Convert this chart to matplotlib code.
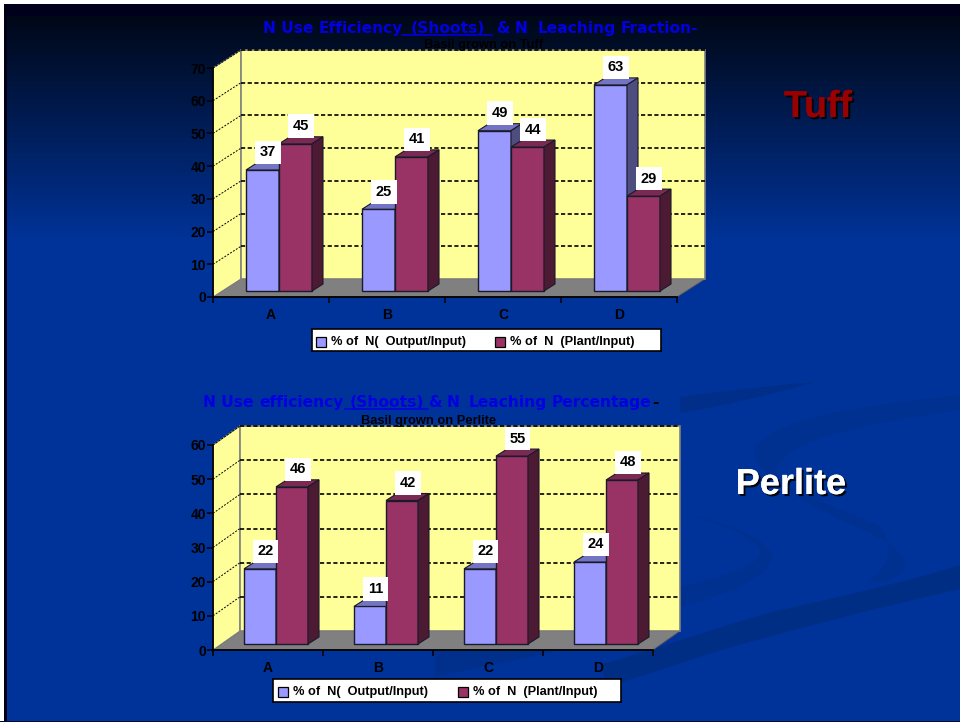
import numpy as np
import matplotlib
matplotlib.use("Agg")
import matplotlib.pyplot as plt
import matplotlib.patheffects as pe
from matplotlib.patches import PathPatch, Polygon, Rectangle
from matplotlib.path import Path

W, H = 960, 722

categories = ["A", "B", "C", "D"]
series_names = ["% of  N(  Output/Input)", "% of  N  (Plant/Input)"]

tuff_output = [37, 25, 49, 63]
tuff_plant = [45, 41, 44, 29]
perlite_output = [22, 11, 22, 24]
perlite_plant = [46, 42, 55, 48]

tuff_ticks = [0, 10, 20, 30, 40, 50, 60, 70]
perlite_ticks = [0, 10, 20, 30, 40, 50, 60]

BLUE = ("#9999ff", "#7474c4", "#4d4d80")
MAROON = ("#993366", "#7a2952", "#4d1a33")
TITLE_BLUE = "#0000e0"


def px_axes(fig, left, right, top, bottom):
    return fig.add_axes([left / W, 1 - bottom / H, (right - left) / W, (bottom - top) / H])


def curve(points):
    # first point, then curve segments of three points each
    return Path(points + [points[0]],
                [Path.MOVETO] + [Path.CURVE4] * (len(points) - 1) + [Path.CLOSEPOLY])


def draw_background(fig):
    bg = fig.add_axes([0, 0, 1, 1])
    bg.set_xlim(0, W)
    bg.set_ylim(H, 0)
    bg.axis("off")

    # vertical fade from near black into the slide blue
    t = np.clip((np.arange(H) - 16) / 225.0, 0, 1)[:, None, None]
    top_col = np.array([0.0, 0.03, 0.09])
    low_col = np.array([0.0, 0.2, 0.6])
    grad = top_col + (low_col - top_col) * t
    bg.imshow(grad, extent=(0, W, H, 0), aspect="auto", zorder=0)
    bg.add_patch(Rectangle((0, 4), W, 12, fc="#00001a", ec="none", zorder=1))
    bg.add_patch(Rectangle((4, 4), 3, H, fc="#000014", ec="none", zorder=1))
    bg.add_patch(Rectangle((0, 0), W, 4, fc="white", ec="none", zorder=2))
    bg.add_patch(Rectangle((0, 0), 4, H, fc="white", ec="none", zorder=2))
    bg.add_patch(Rectangle((0, H - 1), W, 1, fc="#000c30", ec="none", zorder=2))

    # swooshes
    swooshes = [
        ("#002e85", [(960, 565), (920, 578), (850, 595), (780, 610), (740, 620), (700, 635), (600, 665),
                     (603, 675), (606, 680), (610, 685), (650, 675), (700, 655), (750, 642),
                     (800, 628), (880, 607), (960, 589), (960, 580), (960, 572), (960, 565)]),
        ("#003190", [(960, 395), (867, 405), (780, 415), (755, 447), (750, 470), (790, 495), (847, 523),
                     (900, 545), (925, 565), (887, 582), (880, 582), (875, 583), (867, 583),
                     (890, 565), (895, 545), (880, 527), (850, 510), (775, 490), (777, 470),
                     (780, 445), (850, 425), (960, 410), (960, 405), (960, 400), (960, 395)]),
        ("#003190", [(680, 512), (725, 522), (772, 540), (772, 557), (772, 575), (730, 595), (680, 607),
                     (680, 600), (680, 593), (680, 587), (725, 575), (760, 565), (760, 553),
                     (760, 540), (725, 525), (680, 512)]),
        ("#002e88", [(680, 397), (730, 390), (780, 385), (815, 382), (780, 392), (730, 405), (680, 413),
                     (680, 408), (680, 402), (680, 397)]),
        ("#00308c", [(435, 650), (475, 650), (520, 650), (560, 650), (520, 660), (475, 668), (435, 677),
                     (435, 668), (435, 660), (435, 650)]),
    ]
    for color, verts in swooshes:
        bg.add_patch(PathPatch(curve(verts), fc=color, ec="none", zorder=1))
    return bg


def draw_chart(fig, frame, ticks, series, depth, bar_px, legend_box, swatches):
    left, right, top, bottom = frame
    ax = px_axes(fig, left, right, top, bottom)
    ymax = ticks[-1]
    ax.set_xlim(0, len(categories))
    ax.set_ylim(0, ymax)
    ax.patch.set_visible(False)

    cat_px = (right - left) / len(categories)
    unit_px = (bottom - top) / ymax
    wall_dx, wall_dy = depth[0] / cat_px, depth[1] / unit_px
    off_x, off_y = 8 / cat_px, 6 / unit_px
    bar_w = bar_px / cat_px
    bar_dx, bar_dy = 11 / cat_px, 7 / unit_px
    n_cat = len(categories)

    # floor and walls
    ax.add_patch(Polygon([(0, 0), (n_cat, 0), (n_cat + wall_dx, wall_dy), (wall_dx, wall_dy)],
                         fc="#808080", ec="#555555", lw=0.6, clip_on=False, zorder=1))
    ax.add_patch(Polygon([(0, 0), (wall_dx, wall_dy), (wall_dx, ymax + wall_dy), (0, ymax)],
                         fc="#ffff99", ec="#808080", lw=0.8, clip_on=False, zorder=1))
    ax.add_patch(Rectangle((wall_dx, wall_dy), n_cat, ymax, fc="#ffff99", ec="#808080", lw=1.2,
                           clip_on=False, zorder=1))

    for v in ticks[1:]:
        ax.plot([wall_dx, n_cat + wall_dx], [v + wall_dy, v + wall_dy], color="black", lw=1.2,
                ls=(0, (2.5, 1.5)), clip_on=False, zorder=2)
        ax.plot([0, wall_dx], [v, v + wall_dy], color="black", lw=0.7,
                ls=(0, (2, 1.5)), clip_on=False, zorder=2)

    # bars, left to right so later boxes cover earlier side faces
    for i in range(n_cat):
        start = i + 0.5 + off_x - bar_w
        for j, (vals, cols) in enumerate(series):
            x0 = start + j * bar_w
            v = vals[i]
            y1 = off_y + v
            z = 3 + i + j * 0.1
            ax.bar(x0, v, bar_w, bottom=off_y, align="edge", color=cols[0], edgecolor="#1a1a2a", lw=1.0,
                   clip_on=False, zorder=z)
            ax.add_patch(Polygon([(x0, y1), (x0 + bar_w, y1), (x0 + bar_w + bar_dx, y1 + bar_dy),
                                  (x0 + bar_dx, y1 + bar_dy)], fc=cols[1], ec="#1a1a2a", lw=0.8,
                                 clip_on=False, zorder=z))
            ax.add_patch(Polygon([(x0 + bar_w, off_y), (x0 + bar_w + bar_dx, off_y + bar_dy),
                                  (x0 + bar_w + bar_dx, y1 + bar_dy), (x0 + bar_w, y1)], fc=cols[2],
                                 ec="#1a1a2a", lw=0.8, clip_on=False, zorder=z))
    for i in range(n_cat):
        start = i + 0.5 + off_x - bar_w
        for j, (vals, cols) in enumerate(series):
            ax.text(start + (j + 0.5) * bar_w + bar_dx / 2, vals[i] + off_y + bar_dy + 3.5 / unit_px,
                    str(vals[i]), ha="center", va="bottom", fontsize=10.5, fontweight="bold",
                    family="Liberation Sans", color="black", zorder=20, clip_on=False,
                    bbox=dict(fc="white", ec="none", pad=3.5))

    for s in ("top", "right"):
        ax.spines[s].set_visible(False)
    for s in ("left", "bottom"):
        ax.spines[s].set_linewidth(1.3)
        ax.spines[s].set_zorder(15)
    ax.set_yticks(ticks)
    ax.set_xticks(range(n_cat + 1))
    ax.set_xticklabels([])
    ax.set_xticks(np.arange(n_cat) + 0.5, categories, minor=True)
    ax.tick_params(axis="x", which="minor", length=0, pad=8)
    ax.tick_params(axis="both", which="major", length=4, width=1.1, pad=1)
    for lab in ax.get_yticklabels() + ax.get_xticklabels(minor=True):
        lab.set_fontsize(10)
        lab.set_fontweight("bold")
        lab.set_family("Liberation Sans")

    # legend box
    lx0, lx1, ly0, ly1 = legend_box
    leg = px_axes(fig, lx0, lx1, ly0, ly1)
    leg.set_xlim(lx0, lx1)
    leg.set_ylim(ly1, ly0)
    leg.set_xticks([])
    leg.set_yticks([])
    for sp in leg.spines.values():
        sp.set_linewidth(1.2)
    for sx, name, (_, cols) in zip(swatches, series_names, series):
        leg.add_patch(Rectangle((sx, ly0 + 8), 10, 10, fc=cols[0], ec="black", lw=0.9))
        leg.text(sx + 15, ly0 + 12.5, name, ha="left", va="center", fontsize=9.2, fontweight="bold",
                 family="Liberation Sans")
    return ax


def draw_title(bg, words, baseline, underline):
    for text, x0, x1, color in words:
        bg.text((x0 + x1) / 2, baseline, text, ha="center", va="baseline", fontsize=11.2, fontweight="bold",
                family="DejaVu Sans", color=color, zorder=5)
    bg.plot(underline[:2], [underline[2]] * 2, color=TITLE_BLUE, lw=1.1, zorder=5)


def main():
    fig = plt.figure(figsize=(W / 100, H / 100), dpi=100)
    draw_background(fig)

    draw_chart(fig, (213, 677, 68, 297), tuff_ticks,
               [(tuff_output, BLUE), (tuff_plant, MAROON)], (28, 18), 33,
               (312, 661, 329, 351), (316, 495))
    draw_chart(fig, (213, 653, 445, 650), perlite_ticks,
               [(perlite_output, BLUE), (perlite_plant, MAROON)], (27, 19), 32,
               (273, 621, 679, 702), (278, 458))

    # titles sit on top of everything
    over = fig.add_axes([0, 0, 1, 1], label="overlay")
    over.set_xlim(0, W)
    over.set_ylim(H, 0)
    over.axis("off")
    draw_title(over, [("N Use", 262, 315, TITLE_BLUE), ("Efficiency", 319, 403, TITLE_BLUE),
                      ("(Shoots)", 403, 492, TITLE_BLUE), ("&", 497, 508, TITLE_BLUE),
                      ("N", 515, 527, TITLE_BLUE), ("Leaching", 535, 618, TITLE_BLUE),
                      ("Fraction-", 618, 700, TITLE_BLUE)], 33, (402, 492, 35))
    draw_title(over, [("N Use", 202, 254, TITLE_BLUE), ("efficiency", 259, 345, TITLE_BLUE),
                      ("(Shoots)", 345, 428, TITLE_BLUE), ("&", 428, 442, TITLE_BLUE),
                      ("N", 447, 460, TITLE_BLUE), ("Leaching", 465, 550, TITLE_BLUE),
                      ("Percentage", 550, 652, TITLE_BLUE), ("-", 652, 658, "black")], 407, (345, 428, 409))
    over.text(484, 48, "Basil grown on Tuff", ha="center", va="baseline", fontsize=9.3, fontweight="bold",
              family="Liberation Sans", color="black")
    over.text(429, 424, "Basil grown on Perlite", ha="center", va="baseline", fontsize=9.3, fontweight="bold",
              family="Liberation Sans", color="black")

    shadow = [pe.withSimplePatchShadow(offset=(1.5, -1.5), shadow_rgbFace="black", alpha=0.9), pe.Normal()]
    over.text(818, 117, "Tuff", ha="center", va="baseline", fontsize=27, fontweight="bold",
              family="Liberation Sans", color="#990000", path_effects=shadow)
    over.text(791, 494, "Perlite", ha="center", va="baseline", fontsize=26, fontweight="bold",
              family="Liberation Sans", color="white", path_effects=shadow)

    fig.savefig("out.png", dpi=100)


if __name__ == "__main__":
    main()
